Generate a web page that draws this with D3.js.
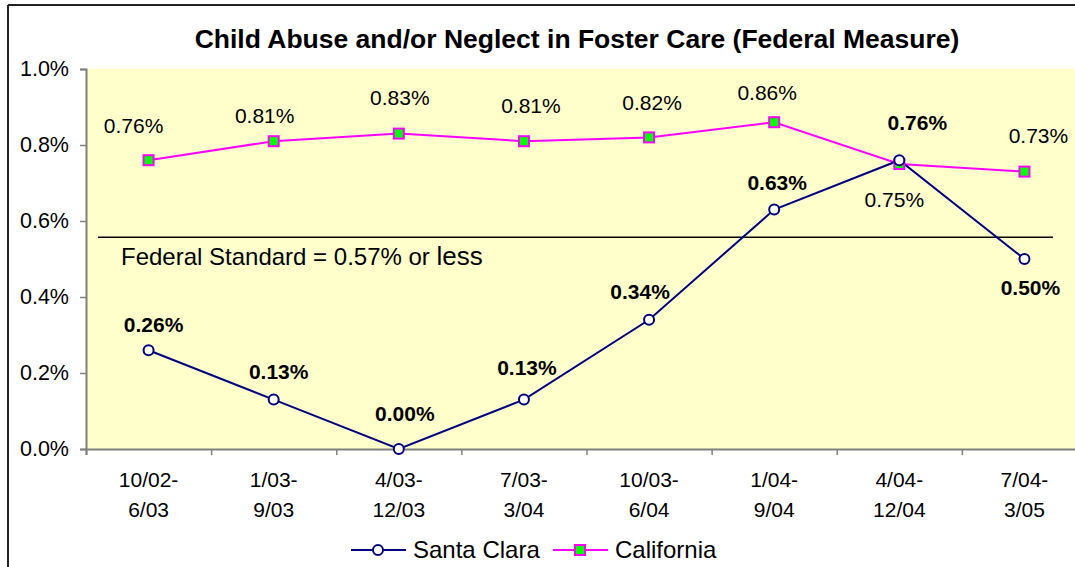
<!DOCTYPE html>
<html>
<head>
<meta charset="utf-8">
<script src="https://cdn.jsdelivr.net/npm/d3@7"></script>
<style>
  html, body { margin: 0; padding: 0; background: #fff; }
  svg { display: block; font-family: "Liberation Sans", Arial, sans-serif; }
</style>
</head>
<body>
<svg id="chart" width="1075" height="567"></svg>
<script>
// ---- data ----
const categories = ["10/02-|6/03", "1/03-|9/03", "4/03-|12/03", "7/03-|3/04", "10/03-|6/04", "1/04-|9/04", "4/04-|12/04", "7/04-|3/05"];
const santaClara = [0.26, 0.13, 0.00, 0.13, 0.34, 0.63, 0.76, 0.50];
const california = [0.76, 0.81, 0.83, 0.81, 0.82, 0.86, 0.75, 0.73];
const yTicks = [0, 0.2, 0.4, 0.6, 0.8, 1.0];
const federalStandardLine = 0.557;
const titleText = "Child Abuse and/or Neglect in Foster Care (Federal Measure)";
const seriesNames = ["Santa Clara", "California"];

// ---- label placement (layout only) ----
const scLabelOffsets = [[5,-18],[5,-21],[6,-28],[3,-25],[-9,-21],[3,-20],[18,-30],[6,36]];
const caLabelOffsets = [[-15,-27],[-9,-18],[1,-29],[7,-28],[3,-27],[-7,-22],[-5,43],[14,-29]];

(function () {
const svg = d3.select("#chart");
const W = 1075, H = 567;
const pLeft = 86, pRight = 1087, pTop = 69, pBottom = 449;

const x = d3.scaleBand().domain(d3.range(categories.length)).range([pLeft, pRight]).padding(0);
const cx = i => x(i) + x.bandwidth() / 2;
const y = d3.scaleLinear().domain([0, 1.0]).range([pBottom, pTop]);

// outer border
svg.append("line").attr("x1", 8).attr("x2", 8).attr("y1", 5).attr("y2", H)
  .attr("stroke", "#222").attr("stroke-width", 2);
svg.append("line").attr("x1", 8).attr("x2", W).attr("y1", 5).attr("y2", 5)
  .attr("stroke", "#222").attr("stroke-width", 2);

// plot area
svg.append("rect").attr("x", pLeft).attr("y", pTop)
  .attr("width", pRight - pLeft).attr("height", pBottom - pTop)
  .attr("fill", "#FFFFCC");

// title
svg.append("text").attr("x", 577).attr("y", 48).attr("text-anchor", "middle")
  .attr("font-size", 26.5).attr("font-weight", "bold").attr("fill", "#000")
  .text(titleText);

// y axis
const yAxis = d3.axisLeft(y).tickValues(yTicks).tickSize(6).tickPadding(11)
  .tickFormat(d => d.toFixed(1) + "%");
const gy = svg.append("g").attr("transform", `translate(${pLeft},0)`).call(yAxis);
gy.select(".domain").attr("stroke", "#808080").attr("stroke-width", 2);
gy.selectAll(".tick line").attr("stroke", "#808080").attr("stroke-width", 1.5);
gy.selectAll(".tick text").attr("font-size", 21.5).attr("fill", "#000")
  .attr("font-family", "Liberation Sans, Arial, sans-serif");

// x axis (boundaries as ticks)
const boundaries = d3.range(categories.length + 1);
const xb = d3.scaleLinear().domain([0, categories.length]).range([pLeft, pRight]);
const xAxis = d3.axisBottom(xb).tickValues(boundaries).tickSize(6).tickFormat("");
const gx = svg.append("g").attr("transform", `translate(0,${pBottom})`).call(xAxis);
gx.select(".domain").attr("stroke", "#808080").attr("stroke-width", 2);
gx.selectAll(".tick line").attr("stroke", "#808080").attr("stroke-width", 1.5);

// x category labels
const xl = svg.append("g");
categories.forEach((c, i) => {
  const parts = c.split("|");
  const t = xl.append("text").attr("text-anchor", "middle").attr("font-size", 21).attr("fill", "#000");
  t.append("tspan").attr("x", cx(i)).attr("y", 487).text(parts[0]);
  t.append("tspan").attr("x", cx(i)).attr("y", 517).text(parts[1]);
});

// federal standard line
svg.append("line").attr("x1", 98).attr("x2", 1053)
  .attr("y1", y(federalStandardLine)).attr("y2", y(federalStandardLine))
  .attr("stroke", "#000").attr("stroke-width", 1.5);
const ft = svg.append("text").attr("x", 121).attr("y", 265).attr("fill", "#000");
ft.append("tspan").attr("font-size", 24).text("Federal Standard = 0.57% or ");
ft.append("tspan").attr("font-size", 26).text("less");

// lines
const line = d3.line().x((d, i) => cx(i)).y(d => y(d));
svg.append("path").datum(california).attr("d", line)
  .attr("fill", "none").attr("stroke", "#FF00FF").attr("stroke-width", 2);
svg.append("path").datum(santaClara).attr("d", line)
  .attr("fill", "none").attr("stroke", "#000080").attr("stroke-width", 2);

// markers
svg.append("g").selectAll("rect").data(california).join("rect")
  .attr("x", (d, i) => cx(i) - 5).attr("y", d => y(d) - 5)
  .attr("width", 10).attr("height", 10)
  .attr("fill", "#00FF00").attr("stroke", "#FF00FF").attr("stroke-width", 2);
svg.append("g").selectAll("circle").data(santaClara).join("circle")
  .attr("cx", (d, i) => cx(i)).attr("cy", d => y(d)).attr("r", 5)
  .attr("fill", "#fff").attr("stroke", "#000080").attr("stroke-width", 2);

// data labels
svg.append("g").selectAll("text").data(california).join("text")
  .attr("x", (d, i) => cx(i) + caLabelOffsets[i][0])
  .attr("y", (d, i) => y(d) + caLabelOffsets[i][1])
  .attr("text-anchor", "middle").attr("font-size", 21).attr("fill", "#000")
  .text(d => d.toFixed(2) + "%");
svg.append("g").selectAll("text").data(santaClara).join("text")
  .attr("x", (d, i) => cx(i) + scLabelOffsets[i][0])
  .attr("y", (d, i) => y(d) + scLabelOffsets[i][1])
  .attr("text-anchor", "middle").attr("font-size", 21).attr("font-weight", "bold").attr("fill", "#000")
  .text(d => d.toFixed(2) + "%");

// legend
const lg = svg.append("g");
lg.append("line").attr("x1", 351).attr("x2", 406).attr("y1", 550).attr("y2", 550)
  .attr("stroke", "#000080").attr("stroke-width", 2);
lg.append("circle").attr("cx", 378).attr("cy", 550).attr("r", 5)
  .attr("fill", "#fff").attr("stroke", "#000080").attr("stroke-width", 2);
lg.append("text").attr("x", 413).attr("y", 558).attr("font-size", 24).attr("fill", "#000").text(seriesNames[0]);
lg.append("line").attr("x1", 553).attr("x2", 608).attr("y1", 550).attr("y2", 550)
  .attr("stroke", "#FF00FF").attr("stroke-width", 2);
lg.append("rect").attr("x", 575).attr("y", 545).attr("width", 10).attr("height", 10)
  .attr("fill", "#00FF00").attr("stroke", "#FF00FF").attr("stroke-width", 2);
lg.append("text").attr("x", 615).attr("y", 558).attr("font-size", 24).attr("fill", "#000").text(seriesNames[1]);
})();
</script>
</body>
</html>
